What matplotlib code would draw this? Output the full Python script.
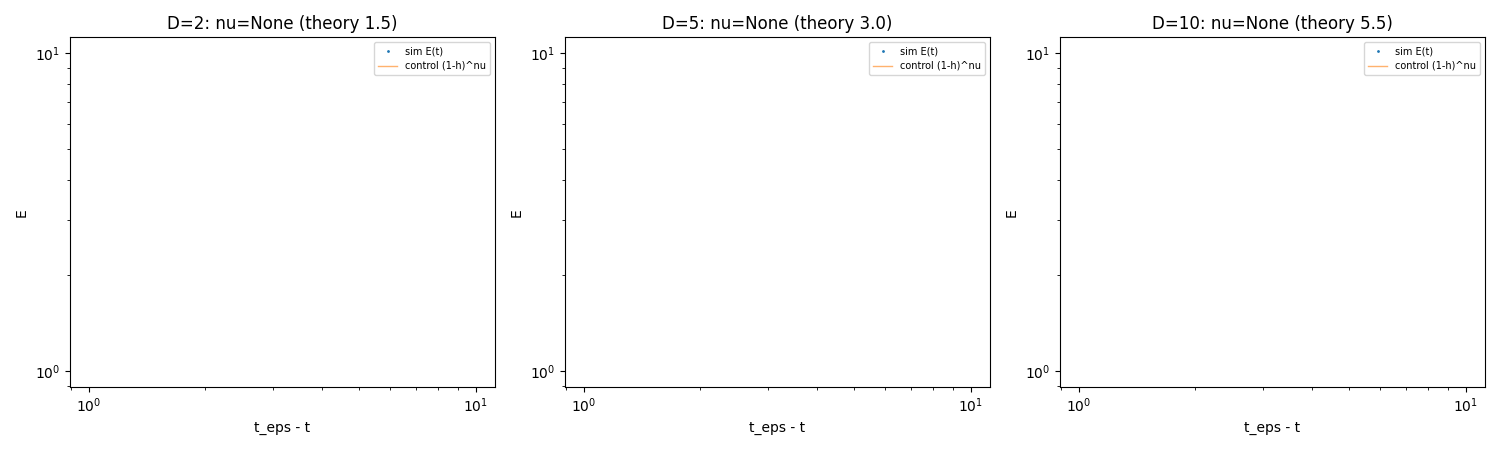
import numpy as np
import matplotlib.pyplot as plt

# data: the fits returned no points, so every panel is empty
dims = [2, 5, 10]
nu_fit = [None, None, None]
nu_theory = [1.5, 3.0, 5.5]
t_sim = [[], [], []]
e_sim = [[], [], []]
t_ctrl = [[], [], []]
e_ctrl = [[], [], []]

fig, axes = plt.subplots(1, 3, figsize=(15, 4.5))

for i, ax in enumerate(axes):
    ax.loglog(t_sim[i], e_sim[i], '.', ms=2, label='sim E(t)')
    ax.loglog(t_ctrl[i], e_ctrl[i], '-', lw=1, alpha=0.6, label='control (1-h)^nu')
    ax.set_title(f"D={dims[i]}: nu={nu_fit[i]} (theory {nu_theory[i]})")
    ax.set_xlabel("t_eps - t")
    ax.set_ylabel("E")
    ax.legend(fontsize=7)

plt.tight_layout()
plt.savefig("out.png", dpi=100)
